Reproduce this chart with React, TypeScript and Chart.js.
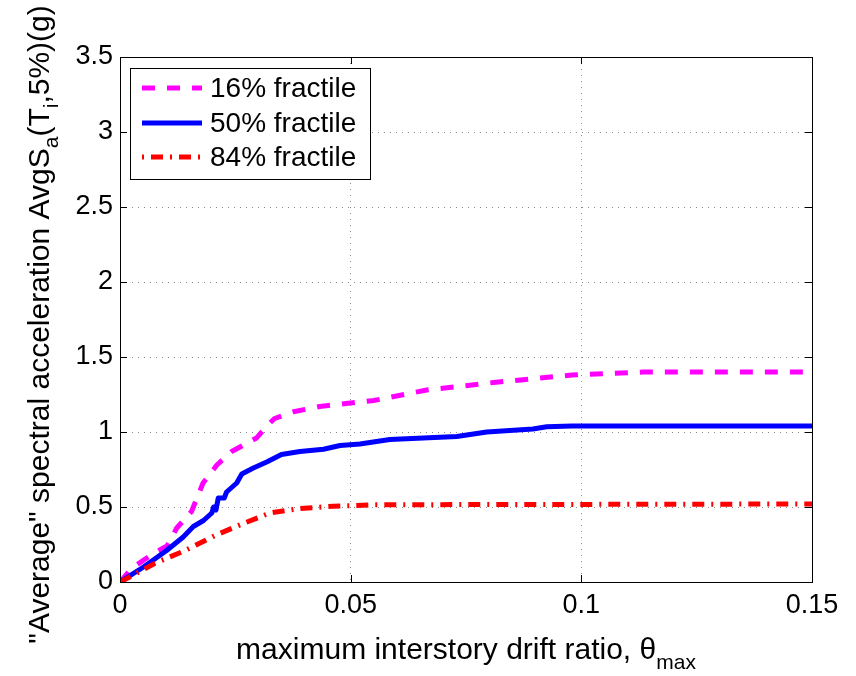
import React, { useEffect, useRef } from "react";
import { Chart, registerables } from "chart.js";

Chart.register(...registerables);

// ---- data ----
const drift16 = [0, 0.0025, 0.0072, 0.0102, 0.0123, 0.0155, 0.018, 0.021, 0.0242, 0.0296, 0.0318, 0.0335, 0.0376, 0.0433, 0.049, 0.055, 0.0665, 0.081, 0.098, 0.1135, 0.15];
const sa16 = [0, 0.09, 0.19, 0.24, 0.36, 0.47, 0.66, 0.78, 0.87, 0.96, 1.04, 1.09, 1.135, 1.17, 1.19, 1.21, 1.28, 1.33, 1.38, 1.40, 1.40];

const drift50 = [0, 0.0051, 0.0101, 0.0137, 0.0159, 0.0181, 0.0199, 0.0203, 0.0208, 0.0213, 0.0226, 0.0231, 0.0253, 0.0264, 0.0289, 0.0318, 0.035, 0.039, 0.0441, 0.0477, 0.052, 0.0585, 0.073, 0.0795, 0.0895, 0.0925, 0.098, 0.15];
const sa50 = [0, 0.1, 0.21, 0.3, 0.37, 0.41, 0.46, 0.5, 0.48, 0.56, 0.56, 0.6, 0.66, 0.72, 0.76, 0.8, 0.85, 0.87, 0.885, 0.91, 0.92, 0.95, 0.97, 1.0, 1.02, 1.035, 1.04, 1.04];

const drift84 = [0, 0.0022, 0.0076, 0.0141, 0.0206, 0.0267, 0.0325, 0.039, 0.0462, 0.055, 0.15];
const sa84 = [0, 0.035, 0.125, 0.21, 0.31, 0.39, 0.46, 0.49, 0.505, 0.515, 0.52];

const xTicks = [0, 0.05, 0.1, 0.15];
const yTicks = [0, 0.5, 1, 1.5, 2, 2.5, 3, 3.5];
const seriesLabels = ["16% fractile", "50% fractile", "84% fractile"];

const FONT = "'Liberation Sans', Arial, Helvetica, sans-serif";

const colors = ["#ff00ff", "#0000ff", "#ff0000"];
const dashes: number[][] = [[13, 12], [], [12, 7, 2, 7]];

type Seg = { t: string; sub?: boolean };

function drawRich(ctx: CanvasRenderingContext2D, segs: Seg[], size: number, subSize: number, subOff: number) {
  const fMain = `${size}px ${FONT}`;
  const fSub = `${subSize}px ${FONT}`;
  let total = 0;
  const widths = segs.map((s) => {
    ctx.font = s.sub ? fSub : fMain;
    const w = ctx.measureText(s.t).width;
    total += w;
    return w;
  });
  let x = -total / 2;
  ctx.textAlign = "left";
  ctx.textBaseline = "alphabetic";
  segs.forEach((s, i) => {
    ctx.font = s.sub ? fSub : fMain;
    ctx.fillText(s.t, x, s.sub ? subOff : 0);
    x += widths[i];
  });
}

const matlabPlugin = {
  id: "matlabDecor",
  afterDraw(chart: any) {
    const ctx: CanvasRenderingContext2D = chart.ctx;
    const { left, right, top, bottom } = chart.chartArea;
    const xs = chart.scales.x;
    const ys = chart.scales.y;
    ctx.save();
    // box
    ctx.strokeStyle = "#000";
    ctx.lineWidth = 1;
    ctx.setLineDash([]);
    ctx.strokeRect(Math.round(left) + 0.5, Math.round(top) + 0.5, Math.round(right - left), Math.round(bottom - top));
    // inward ticks
    const tl = 7;
    ctx.beginPath();
    xTicks.forEach((v) => {
      const px = Math.round(xs.getPixelForValue(v)) + 0.5;
      ctx.moveTo(px, bottom);
      ctx.lineTo(px, bottom - tl);
      ctx.moveTo(px, top);
      ctx.lineTo(px, top + tl);
    });
    yTicks.forEach((v) => {
      const py = Math.round(ys.getPixelForValue(v)) + 0.5;
      ctx.moveTo(left, py);
      ctx.lineTo(left + tl, py);
      ctx.moveTo(right, py);
      ctx.lineTo(right - tl, py);
    });
    ctx.stroke();

    // legend
    const lx = left + 10, ly = top + 11, lw = 240, lh = 111;
    ctx.fillStyle = "#fff";
    ctx.fillRect(lx, ly, lw, lh);
    ctx.strokeStyle = "#000";
    ctx.strokeRect(Math.round(lx) + 0.5, Math.round(ly) + 0.5, lw, lh);
    const rowY = [ly + 20, ly + 55, ly + 89];
    seriesLabels.forEach((lab, i) => {
      ctx.save();
      ctx.strokeStyle = colors[i];
      ctx.lineWidth = 5;
      ctx.lineCap = "butt";
      ctx.setLineDash(dashes[i]);
      ctx.lineDashOffset = i === 2 ? 19 : 0;
      ctx.beginPath();
      ctx.moveTo(lx + 12, rowY[i]);
      ctx.lineTo(lx + 72, rowY[i]);
      ctx.stroke();
      ctx.restore();
      ctx.fillStyle = "#000";
      ctx.font = `28px ${FONT}`;
      ctx.textAlign = "left";
      ctx.textBaseline = "middle";
      ctx.fillText(lab, lx + 80, rowY[i] + 1);
    });

    // axis titles
    ctx.fillStyle = "#000";
    ctx.save();
    ctx.translate((left + right) / 2, 659);
    drawRich(ctx, [{ t: "maximum interstory drift ratio, \u03b8" }, { t: "max", sub: true }], 30, 21, 10);
    ctx.restore();

    ctx.save();
    ctx.translate(49, (top + bottom) / 2 + 5);
    ctx.rotate(-Math.PI / 2);
    drawRich(
      ctx,
      [
        { t: "\"Average\" spectral acceleration AvgS" },
        { t: "a", sub: true },
        { t: "(T" },
        { t: "i", sub: true },
        { t: ",5%)(g)" },
      ],
      30,
      21,
      9
    );
    ctx.restore();
    ctx.restore();
  },
};

export default function App() {
  const ref = useRef<HTMLCanvasElement | null>(null);
  useEffect(() => {
    if (!ref.current) return;
    const mk = (xs: number[], ys: number[]) => xs.map((x, i) => ({ x, y: ys[i] }));
    const chart = new Chart(ref.current, {
      type: "scatter",
      data: {
        datasets: [
          { label: seriesLabels[0], data: mk(drift16, sa16) },
          { label: seriesLabels[1], data: mk(drift50, sa50) },
          { label: seriesLabels[2], data: mk(drift84, sa84) },
        ].map((d, i) => ({
          ...d,
          showLine: true,
          borderColor: colors[i],
          backgroundColor: colors[i],
          borderWidth: 5,
          borderDash: dashes[i],
          borderCapStyle: "butt" as const,
          borderJoinStyle: "round" as const,
          pointRadius: 0,
          pointHoverRadius: 0,
          tension: 0,
          order: 3 - i,
        })),
      },
      options: {
        animation: false,
        responsive: true,
        maintainAspectRatio: false,
        layout: { padding: { top: 57, right: 44, left: 0, bottom: 0 } },
        plugins: { legend: { display: false }, tooltip: { enabled: false } },
        scales: {
          x: {
            type: "linear",
            min: 0,
            max: 0.15,
            afterBuildTicks: (axis: any) => {
              axis.ticks = xTicks.map((v) => ({ value: v }));
            },
            afterFit: (axis: any) => {
              axis.height = 94;
            },
            grid: { color: "#8c8c8c", lineWidth: 1, drawTicks: false },
            border: { display: false, dash: [1, 5] },
            ticks: {
              color: "#000",
              font: { family: FONT, size: 27 },
              padding: 7,
              maxRotation: 0,
              autoSkip: false,
              callback: (v: any) => String(v),
            },
          },
          y: {
            type: "linear",
            min: 0,
            max: 3.5,
            afterBuildTicks: (axis: any) => {
              axis.ticks = yTicks.map((v) => ({ value: v }));
            },
            afterFit: (axis: any) => {
              axis.width = 120;
            },
            grid: { color: "#8c8c8c", lineWidth: 1, drawTicks: false },
            border: { display: false, dash: [1, 5] },
            ticks: {
              color: "#000",
              font: { family: FONT, size: 27 },
              padding: 7,
              autoSkip: false,
              callback: (v: any) => String(v),
            },
          },
        },
      },
      plugins: [matlabPlugin],
    });
    return () => chart.destroy();
  }, []);
  return (
    <div style={{ position: "absolute", left: 0, top: 0, width: 856, height: 676, background: "#fff" }}>
      <canvas ref={ref} />
    </div>
  );
}
